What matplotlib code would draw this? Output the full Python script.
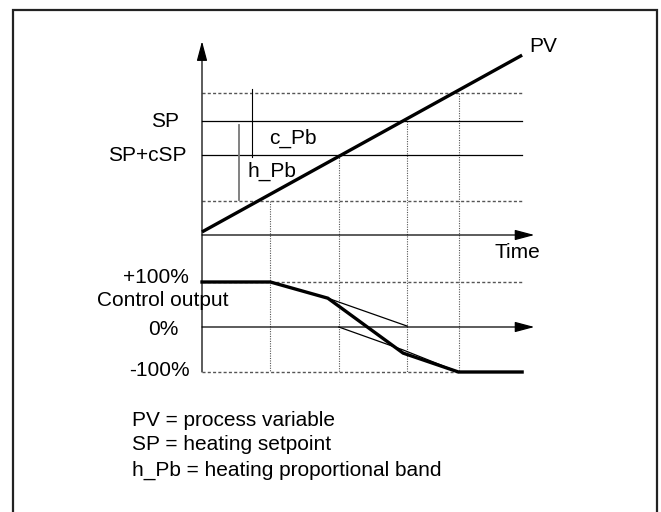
import matplotlib
matplotlib.use("Agg")
import matplotlib.pyplot as plt
from matplotlib.patches import Rectangle

plt.rcParams['font.family'] = ['Liberation Sans', 'DejaVu Sans']

# ---------------- data (schematic units) ----------------
time_marks = [1.0, 2.0, 3.0, 3.75]          # vertical dotted guide lines
mark_start_levels = [1.0, 2.35, 3.35, 4.18]  # PV level where each guide starts
t_end = 4.68

pv_t = [0.0, 4.68]
pv_v = [0.09, 5.29]

band_low = 1.0      # lower dashed (h_Pb bottom)
sp_csp = 2.35       # SP+cSP
sp = 3.35           # SP
band_high = 4.18    # upper dashed (c_Pb top)

out_t = [0.0, 1.0, 1.84, 2.94, 3.75, 4.68]
out_v = [100, 100, 64, -58, -100, -100]
heat_t = [1.84, 3.0]
heat_v = [64, 2]
cool_t = [2.0, 2.94, 3.75]
cool_v = [0, -51, -100]

legend_lines = ["PV = process variable",
                "SP = heating setpoint",
                "h_Pb = heating proportional band"]

# ---------------- figure ----------------
W, H = 661, 512
fig = plt.figure(figsize=(W / 100, H / 100), dpi=100)
fig.patch.set_facecolor('white')

x0_px, t_px = 202, 68.4           # time origin pixel, px per time unit
pv0_px, pv_px = 235, 34.0         # PV zero pixel, px per PV unit
o0_px, o_px = 327, 0.45           # 0% pixel, px per %

ax_top = fig.add_axes([0, 0, 1, 1])
ax_bot = fig.add_axes([0, 0, 1, 1])
for ax in (ax_top, ax_bot):
    ax.set_xlim(-x0_px / t_px, (W - x0_px) / t_px)
    ax.axis('off')
    ax.patch.set_alpha(0)
ax_top.set_ylim((pv0_px - H) / pv_px, pv0_px / pv_px)
ax_bot.set_ylim((o0_px - H) / o_px, o0_px / o_px)

FS = 15
dash = (0, (2.2, 1.6))
dot = (0, (1, 1.2))
gray = '#555555'

# border
fig.patches.append(Rectangle((13 / W, -0.1), (657 - 13) / W, 1.1 - 10 / H,
                             transform=fig.transFigure, fill=False,
                             edgecolor='#222222', lw=1.6))

# convert -100% level into top-axes PV units for the guide lines
def bot_to_top(t, v):
    disp = ax_bot.transData.transform((t, v))
    return ax_top.transData.inverted().transform(disp)[1]

y_bottom = bot_to_top(0, -100)

# vertical dotted guides
for t, lv in zip(time_marks, mark_start_levels):
    ax_top.plot([t, t], [lv, y_bottom], color=gray, lw=0.8, ls=dot)

# horizontal lines in PV part
ax_top.plot([0, t_end], [band_high, band_high], color=gray, lw=1.0, ls=dash)
ax_top.plot([0, t_end], [band_low, band_low], color=gray, lw=1.0, ls=dash)
ax_top.plot([0, t_end], [sp, sp], color='black', lw=0.9)
ax_top.plot([0, t_end], [sp_csp, sp_csp], color='black', lw=0.9)

# c_Pb and h_Pb markers
ax_top.plot([0.73, 0.73], [band_high + 0.11, sp_csp - 0.06], color='black', lw=0.8)
ax_top.plot([0.54, 0.54], [sp - 0.12, band_low + 0.03], color='#777777', lw=1.3)

# PV line
ax_top.plot(pv_t, pv_v, color='black', lw=2.4, solid_capstyle='butt')

# axes with arrows
arrow = dict(arrowstyle='-|>,head_length=0.6,head_width=0.16', color='black',
             lw=0.9, mutation_scale=20, shrinkA=0, shrinkB=0)
ax_top.annotate('', xy=(0, 5.7), xytext=(0, y_bottom), arrowprops=arrow)
ax_top.annotate('', xy=(4.86, 0), xytext=(0, 0), arrowprops=arrow)
ax_bot.annotate('', xy=(4.86, 0), xytext=(0, 0), arrowprops=arrow)

# output part
ax_bot.plot([0, t_end], [100, 100], color=gray, lw=1.0, ls=dash)
ax_bot.plot([0, time_marks[-1]], [-100, -100], color=gray, lw=1.0, ls=dash)
ax_bot.plot(heat_t, heat_v, color='black', lw=0.9)
ax_bot.plot(cool_t, cool_v, color='black', lw=0.9)
ax_bot.plot(out_t, out_v, color='black', lw=2.4, solid_joinstyle='miter')

# labels
ax_top.text(-0.34, sp, "SP", ha='right', va='center', fontsize=FS)
ax_top.text(-0.22, sp_csp, "SP+cSP", ha='right', va='center', fontsize=FS)
ax_top.text(0.98, 2.85, "c_Pb", ha='left', va='center', fontsize=FS)
ax_top.text(0.66, 1.88, "h_Pb", ha='left', va='center', fontsize=FS)
ax_top.text(4.78, 5.53, "PV", ha='left', va='center', fontsize=FS)
ax_top.text(4.28, -0.5, "Time", ha='left', va='center', fontsize=FS)

ax_bot.text(-0.19, 109, "+100%", ha='right', va='center', fontsize=FS)
ax_bot.text(-1.535, 58, "Control output", ha='left', va='center', fontsize=FS)
ax_bot.text(-0.34, -6, "0%", ha='right', va='center', fontsize=FS)
ax_bot.text(-0.175, -97, "-100%", ha='right', va='center', fontsize=FS)

for i, line in enumerate(legend_lines):
    fig.text(132 / W, 1 - (420 + 25 * i) / H, line, ha='left', va='center',
             fontsize=FS)

fig.savefig("out.png", dpi=100, facecolor='white')
